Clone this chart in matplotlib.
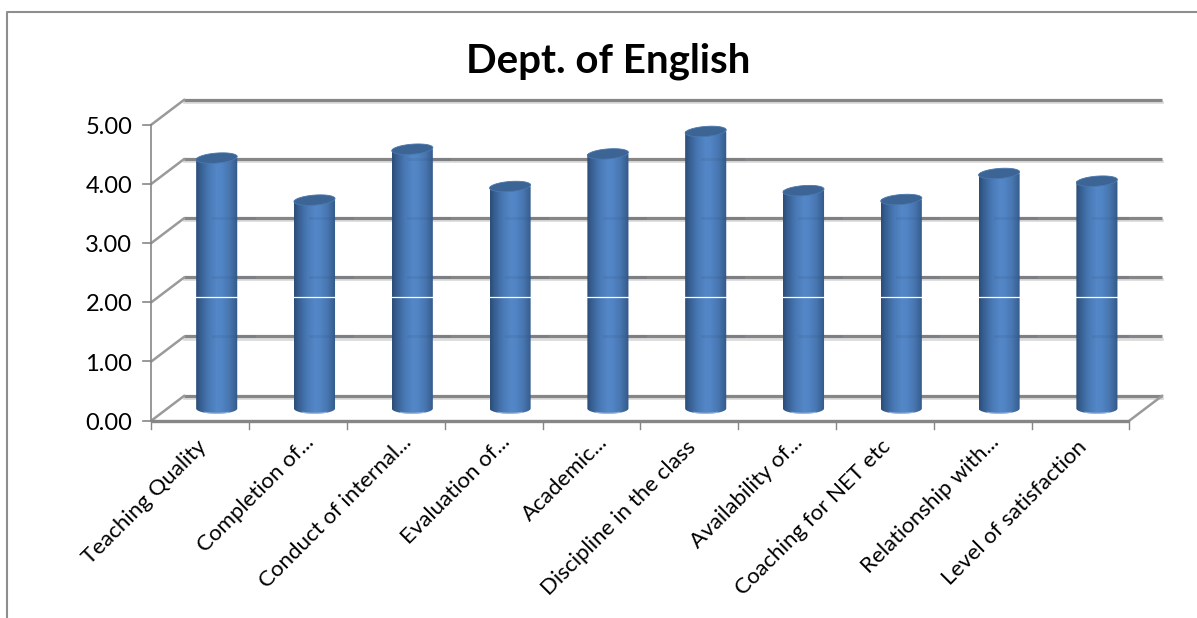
import numpy as np
import matplotlib
matplotlib.use("Agg")
import matplotlib.pyplot as plt
from matplotlib.lines import Line2D
from matplotlib.patches import PathPatch, Polygon
from matplotlib.path import Path
from matplotlib.transforms import Affine2D

# departmental feedback scores
categories = ["Teaching Quality", "Completion of...", "Conduct of internal...",
              "Evaluation of...", "Academic...", "Discipline in the class",
              "Availability of...", "Coaching for NET etc", "Relationship with...",
              "Level of satisfaction"]
scores = [4.23, 3.52, 4.38, 3.75, 4.30, 4.68, 3.68, 3.53, 3.97, 3.84]
y_ticks = [0, 1, 2, 3, 4, 5]
y_labels = ["0.00", "1.00", "2.00", "3.00", "4.00", "5.00"]
title = "Dept. of English"

W, H = 1197, 618
plt.rcParams['font.family'] = ['Lato', 'DejaVu Sans']
fig = plt.figure(figsize=(W / 100, H / 100), dpi=100)
# axes = the front plane of the fake 3D box
left, right, bottom, top = 151.3, 1129.3, 420.7, 124.7
ax = fig.add_axes([left / W, 1 - bottom / H, (right - left) / W, (bottom - top) / H])
ax.set_xlim(0, 10)
ax.set_ylim(0, 5)
ax.axis('off')

back = ax.transData + Affine2D().translate(33, 25)
mid = ax.transData + Affine2D().translate(16.5, 12.2)
GRAY = '#868686'

# chart frame (open at right and bottom)
fig.add_artist(Line2D([7 / W, 7 / W, 1], [0, 1 - 12 / H, 1 - 12 / H], color='#8e8e8e', lw=1.5))

# back wall gridlines with soft shadow
for t in y_ticks:
    ax.plot([0, 10], [t - 0.035, t - 0.035], color='#dcdcdc', lw=2, transform=back, clip_on=False, zorder=1)
    ax.plot([0, 10], [t, t], color=GRAY, lw=2.3, transform=back, clip_on=False, zorder=2,
            solid_capstyle='butt')
    # side wall diagonal from front tick to back wall
    ax.annotate('', xy=(0, t), xycoords=back, xytext=(0, t), textcoords=ax.transData,
                arrowprops=dict(arrowstyle='-', color='#9a9a9a', lw=1.8, shrinkA=0, shrinkB=0), zorder=2)
    ax.plot([-0.08, 0], [t, t], color=GRAY, lw=1.2, clip_on=False, zorder=3)
    ax.text(-0.195, t - 0.01, y_labels[t], ha='right', va='center_baseline', fontsize=17, color='black')

# floor edge on the right
ax.annotate('', xy=(10, 0), xycoords=back, xytext=(10, 0), textcoords=ax.transData,
            arrowprops=dict(arrowstyle='-', color='#9a9a9a', lw=1.8, shrinkA=0, shrinkB=0), zorder=2)

# front axes
ax.plot([0, 0], [0, 5], color=GRAY, lw=1.2, clip_on=False, zorder=3)
ax.plot([0, 10], [0, 0], color=GRAY, lw=2.4, clip_on=False, zorder=3, solid_capstyle='butt')
for i in range(11):
    ax.plot([i, i], [0, -0.14], color=GRAY, lw=1.0, clip_on=False, zorder=3)

# cylinders
bar_w = 0.42
base_b = 0.088
top_b = 0.085
tilt = 0.026
colors = np.array([[0.17, 0.30, 0.47], [0.22, 0.38, 0.58], [0.29, 0.48, 0.72], [0.33, 0.53, 0.78],
                   [0.32, 0.52, 0.77], [0.28, 0.46, 0.69], [0.23, 0.39, 0.59], [0.20, 0.34, 0.52]])
stops = [0, 0.12, 0.32, 0.5, 0.62, 0.8, 0.93, 1]
ramp = np.linspace(0, 1, 120)
grad = np.stack([np.interp(ramp, stops, colors[:, c]) for c in range(3)], axis=1)[None, :, :]
theta = np.linspace(np.pi, 2 * np.pi, 40)

for i, v in enumerate(scores):
    cx = i + 0.5
    xs = cx + bar_w / 2 * np.cos(theta)
    ys = base_b * np.sin(theta)
    verts = list(zip(xs, ys)) + [(cx + bar_w / 2, v), (cx - bar_w / 2, v), (cx - bar_w / 2, 0)]
    clip = PathPatch(Path(verts, closed=False), transform=mid, fc='none', ec='none')
    ax.add_patch(clip)
    im = ax.imshow(grad, extent=[cx - bar_w / 2, cx + bar_w / 2, -0.2, v + 0.1], aspect='auto',
                   transform=mid, zorder=5, clip_on=True, interpolation='bilinear')
    im.set_clip_path(clip)
    # light rim at the foot of the bar
    ax.plot(xs[12:28], ys[12:28] + 0.008, color='#a9c3e6', lw=0.9, alpha=0.7, transform=mid, zorder=6)
    # top cap
    t2 = np.linspace(0, 2 * np.pi, 60)
    cap = np.column_stack([cx + bar_w / 2 * np.cos(t2), v + top_b * np.sin(t2) + tilt * np.cos(t2)])
    ax.add_patch(Polygon(cap, closed=True, transform=mid, fc='#3c6596', ec='#4a78ae', lw=0.6, zorder=7))
    # white scan line the source image has across each bar
    ax.plot([cx - bar_w / 2, cx + bar_w / 2], [1.89, 1.89], color='white', lw=0.9, transform=mid, zorder=8)
    # gridlines faintly showing through
    for t in y_ticks[1:]:
        if t < v - 0.3:
            ax.plot([cx - bar_w / 2, cx + bar_w / 2], [t, t], color='#2c4a70', lw=2, alpha=0.12,
                    transform=back, zorder=6)

ax.set_xlim(0, 10)
ax.set_ylim(0, 5)

# rotated category labels, the truncated ones sit a bit further up and right
for i, lab in enumerate(categories):
    dx, dy = (0.11, 0.08) if lab.endswith('...') else (0.01, 0.0)
    ax.text(i + 0.45 + dx, -0.27 + dy, lab, rotation=45, rotation_mode='anchor', ha='right', va='top',
            fontsize=16, color='black', clip_on=False)

fig.text(608 / W, 1 - 61 / H, title, ha='center', va='center', fontsize=29, fontweight='bold', color='black')

fig.savefig("out.png", dpi=100, facecolor='white')
